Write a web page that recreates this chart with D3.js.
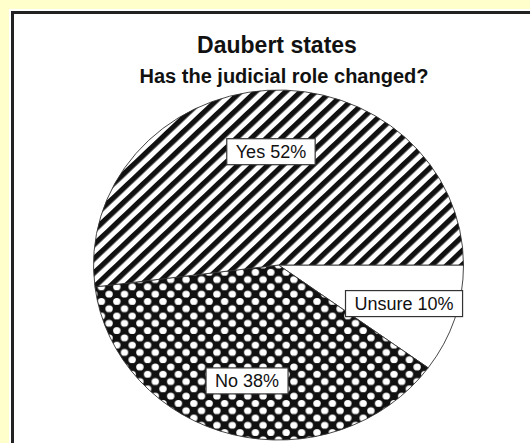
<!DOCTYPE html>
<html>
<head>
<meta charset="utf-8">
<script src="https://cdn.jsdelivr.net/npm/d3@7/dist/d3.min.js"></script>
<style>
  html, body { margin: 0; padding: 0; background: #ffffcc; }
  svg { display: block; }
</style>
</head>
<body>
<svg id="chart" width="530" height="443"></svg>
<script>
// Survey answers: "Has the judicial role changed?" (Daubert states)
const categories = ["Yes", "No", "Unsure"];
const shares = [52, 38, 10];
const labelTexts = ["Yes 52%", "No 38%", "Unsure 10%"];
const titleText = "Daubert states";
const subtitleText = "Has the judicial role changed?";

const W = 530, H = 443;
const svg = d3.select("#chart");
const defs = svg.append("defs");

// diagonal hatching ("/") for Yes
const hatch = defs.append("pattern")
  .attr("id", "hatch")
  .attr("patternUnits", "userSpaceOnUse")
  .attr("width", 10.6).attr("height", 10.6)
  .attr("patternTransform", "rotate(45)");
hatch.append("rect").attr("width", 10.6).attr("height", 10.6).attr("fill", "#fff");
hatch.append("rect").attr("width", 5.4).attr("height", 10.6).attr("fill", "#111");

// dense crosshatch (black with white holes) for No
const cs = 15.4;
const cross = defs.append("pattern")
  .attr("id", "cross")
  .attr("patternUnits", "userSpaceOnUse")
  .attr("width", cs).attr("height", cs);
cross.append("rect").attr("width", cs).attr("height", cs).attr("fill", "#111");
[[0, 0], [cs, 0], [0, cs], [cs, cs], [cs / 2, cs / 2]].forEach(([x, y]) => {
  cross.append("circle").attr("cx", x).attr("cy", y).attr("r", 3.7).attr("fill", "#fff");
});

const fills = { Yes: "url(#hatch)", No: "url(#cross)", Unsure: "#fff" };

// panel
svg.append("rect").attr("x", 9).attr("y", 9).attr("width", W).attr("height", H).attr("fill", "#fff");
svg.append("line").attr("x1", 11).attr("x2", W).attr("y1", 12.5).attr("y2", 12.5)
  .attr("stroke", "#222").attr("stroke-width", 3);
svg.append("line").attr("x1", 12.5).attr("x2", 12.5).attr("y1", 11).attr("y2", H)
  .attr("stroke", "#222").attr("stroke-width", 3);

// titles
svg.append("text").attr("x", 277).attr("y", 53).attr("text-anchor", "middle")
  .attr("font-family", "'Liberation Sans', Arial, Helvetica, sans-serif")
  .attr("font-weight", "bold").attr("font-size", 23).attr("fill", "#111")
  .text(titleText);
svg.append("text").attr("x", 284).attr("y", 83).attr("text-anchor", "middle")
  .attr("font-family", "'Liberation Sans', Arial, Helvetica, sans-serif")
  .attr("font-weight", "bold").attr("font-size", 20).attr("fill", "#111")
  .text(subtitleText);

// pie (slightly squashed vertically)
const cx = 278.5, cy = 265, rx = 185, ry = 175;
const data = categories.map((c, i) => ({ name: c, value: shares[i], label: labelTexts[i] }));
// clockwise from 3 o'clock: Unsure, No, Yes
const clockwise = ["Unsure", "No", "Yes"].map(n => data.find(d => d.name === n));
const pie = d3.pie().value(d => d.value).sort(null)
  .startAngle(Math.PI / 2).endAngle(Math.PI / 2 + 2 * Math.PI);
const arcs = pie(clockwise);
const arc = d3.arc().innerRadius(0).outerRadius(rx);

const g = svg.append("g").attr("transform", `translate(${cx},${cy}) scale(1,${ry / rx})`);
g.selectAll("path.slice").data(arcs).join("path")
  .attr("class", "slice")
  .attr("d", arc)
  .attr("fill", d => fills[d.data.name])
  .attr("stroke", "#333").attr("stroke-width", 0.9)
  .attr("vector-effect", "non-scaling-stroke");

// boxed labels
const labelRadius = { Yes: 120, No: 126.5, Unsure: 132 };
const lg = svg.append("g").attr("transform", `translate(${cx},${cy})`);
arcs.forEach(a => {
  const r = labelRadius[a.data.name];
  const [lx, lyRaw] = d3.arc().innerRadius(r).outerRadius(r).centroid(a);
  const ly = lyRaw * ry / rx;
  const grp = lg.append("g");
  const t = grp.append("text").attr("x", lx).attr("y", ly).attr("dy", "0.36em")
    .attr("text-anchor", "middle")
    .attr("font-family", "'Liberation Sans', Arial, Helvetica, sans-serif")
    .attr("font-size", 18).attr("fill", "#111")
    .text(a.data.label);
  const bb = t.node().getBBox();
  grp.insert("rect", "text")
    .attr("x", bb.x - 9).attr("y", ly - 13)
    .attr("width", bb.width + 18).attr("height", 26)
    .attr("fill", "#fff").attr("stroke", "#333").attr("stroke-width", 1.2);
});
</script>
</body>
</html>
